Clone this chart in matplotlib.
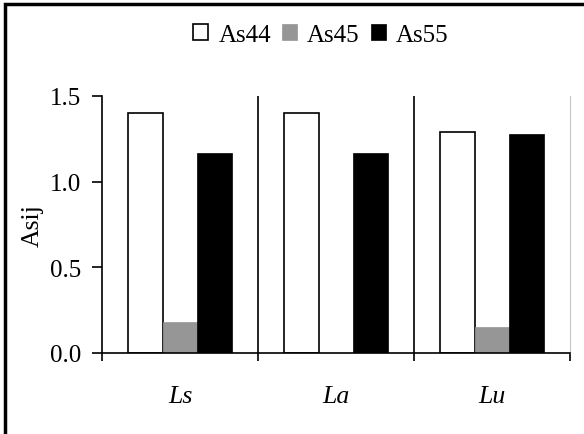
import matplotlib
matplotlib.use("Agg")
import matplotlib.pyplot as plt
from matplotlib.patches import Rectangle
import numpy as np

plt.rcParams["font.family"] = "serif"
plt.rcParams["font.serif"] = ["Liberation Serif", "DejaVu Serif"]

categories = ["Ls", "La", "Lu"]
series = ["As44", "As45", "As55"]
as44 = [1.40, 1.40, 1.29]
as45 = [0.18, 0.0, 0.15]
as55 = [1.17, 1.17, 1.28]
yticks = [0.0, 0.5, 1.0, 1.5]

fig = plt.figure(figsize=(5.84, 4.35), dpi=100)
ax = fig.add_axes([102/584, 1-354/435, (570-102)/584, (354-97)/435])

x = np.arange(len(categories))
w = 1/4.5
ax.bar(x - w, as44, w, color="white", edgecolor="black", linewidth=1.2, label=series[0])
ax.bar(x, as45, w, color="#969696", edgecolor="#969696", linewidth=0.5, label=series[1])
ax.bar(x + w, as55, w, color="black", edgecolor="black", linewidth=0.5, label=series[2])

# category separators
for b in [0.5, 1.5]:
    ax.axvline(b, color="black", linewidth=1.2, zorder=0)

ax.set_xlim(-0.5, 2.5)
ax.set_ylim(0, 1.5)
ax.set_yticks(yticks)
ax.set_yticklabels(["%.1f" % v for v in yticks])
ax.set_xticks([-0.5, 0.5, 1.5, 2.5])
ax.set_xticklabels([])
ax.set_xticks(x, minor=True)
ax.set_xticklabels(categories, minor=True, fontstyle="italic")
ax.tick_params(axis="x", which="minor", length=0, pad=23, labelsize=18.5)
ax.tick_params(axis="x", which="major", direction="out", length=6, width=1.2)
ax.tick_params(axis="y", direction="out", length=7, width=1.2, labelsize=18, pad=8)

ax.spines["top"].set_visible(False)
ax.spines["right"].set_color("#c8c8c8")
ax.spines["left"].set_linewidth(1.2)
ax.spines["bottom"].set_linewidth(1.2)

ax.set_ylabel("Asij", fontsize=18.5)
ax.yaxis.set_label_coords((44-102)/468, 0.5)

fig.legend(*ax.get_legend_handles_labels(), loc="center",
           bbox_to_anchor=(321/584, 1-36/435), ncol=3, frameon=False,
           fontsize=18, handlelength=0.6, handleheight=0.6, handletextpad=0.4,
           columnspacing=0.45, borderpad=0)

# outer border around figure
fig.patches.append(Rectangle((5/584, -0.1), 1.2, 1.1 - 5/435, transform=fig.transFigure,
                             fill=False, edgecolor="black", linewidth=2.5))

fig.savefig("out.png", dpi=100)
